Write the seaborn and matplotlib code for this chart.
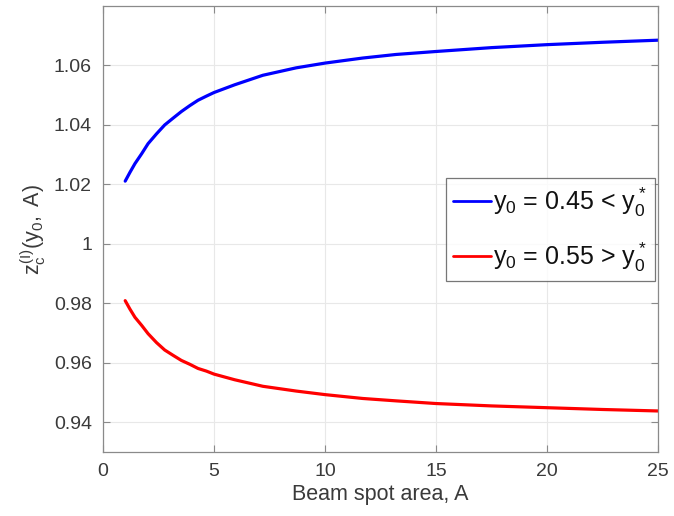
import numpy as np
import pandas as pd
import matplotlib
matplotlib.use("Agg")
import matplotlib.pyplot as plt
import seaborn as sns
from matplotlib.ticker import FuncFormatter

# Data
area = [1, 1.21, 1.44, 1.74, 2.03, 2.41, 2.78, 3.16, 3.53, 3.91, 4.28, 4.66, 5, 5.93,
        7.2, 8.7, 10, 11.7, 13.2, 15, 17.5, 20, 22.5, 25]
z_low = [1.0211, 1.0240, 1.0270, 1.0303, 1.0337, 1.0370, 1.0400, 1.0423, 1.0445, 1.0465,
         1.0483, 1.0497, 1.0509, 1.0535, 1.0567, 1.0592, 1.0608, 1.0625, 1.0637, 1.0647,
         1.0660, 1.0670, 1.0678, 1.0685]
z_high = [0.9809, 0.9781, 0.9753, 0.9726, 0.9698, 0.9668, 0.9643, 0.9625, 0.9608, 0.9595,
          0.9581, 0.9572, 0.9562, 0.9543, 0.9521, 0.9505, 0.9493, 0.9480, 0.9472, 0.9463,
          0.9455, 0.9449, 0.9443, 0.9438]
labels = [r'$y_0$ = 0.45 < $y^*_0$', r'$y_0$ = 0.55 > $y^*_0$']
xticks = [0, 5, 10, 15, 20, 25]
yticks = [0.94, 0.96, 0.98, 1.00, 1.02, 1.04, 1.06]

df = pd.DataFrame({
    'A': area + area,
    'z': z_low + z_high,
    'series': [labels[0]] * len(area) + [labels[1]] * len(area),
})

sns.set_style("white")
plt.rcParams['font.family'] = ['Liberation Sans', 'DejaVu Sans']
plt.rcParams['mathtext.fontset'] = 'custom'
plt.rcParams['mathtext.rm'] = 'Liberation Sans'
plt.rcParams['mathtext.it'] = 'Liberation Sans'
plt.rcParams['mathtext.bf'] = 'Liberation Sans:bold'

fig = plt.figure(figsize=(6.74, 5.16), dpi=100)
ax = fig.add_axes([103/674, 1 - 452/516, 555/674, 446/516])

sns.lineplot(data=df, x='A', y='z', hue='series', palette=['#0000ff', '#ff0000'],
             linewidth=2.3, ax=ax, estimator=None, sort=False)

ax.set_xlim(0, 25)
ax.set_ylim(0.93, 1.08)
ax.set_xticks(xticks)
ax.set_yticks(yticks)
ax.yaxis.set_major_formatter(FuncFormatter(lambda v, p: f'{v:g}'))
ax.grid(True, color='#e8e8e8', linewidth=0.8)
ax.set_axisbelow(True)
for s in ax.spines.values():
    s.set_color('#8a8a8a')
    s.set_linewidth(0.9)
ax.tick_params(direction='in', length=5, width=0.8, color='#8a8a8a',
               labelsize=14, labelcolor='#3a3a3a', top=True, right=True,
               bottom=True, left=True, pad=8)
ax.set_xlabel('Beam spot area, A', fontsize=15.5, color='#3a3a3a', labelpad=3)
ax.set_ylabel(r'$z_c^{(I)}(y_0,$ A)', fontsize=15.5, color='#3a3a3a', labelpad=4)

leg = ax.legend(loc='upper left', bbox_to_anchor=(0.618, 0.614), borderaxespad=0,
                fontsize=18, frameon=True, fancybox=False, edgecolor='#555555',
                handlelength=1.5, handletextpad=0.1, borderpad=0.3, labelspacing=0.85,
                title=None)
leg.get_frame().set_linewidth(0.9)
for h in leg.get_lines():
    h.set_linewidth(2.0)
for t in leg.get_texts():
    t.set_color('#111111')

fig.savefig('out.png', dpi=100)
